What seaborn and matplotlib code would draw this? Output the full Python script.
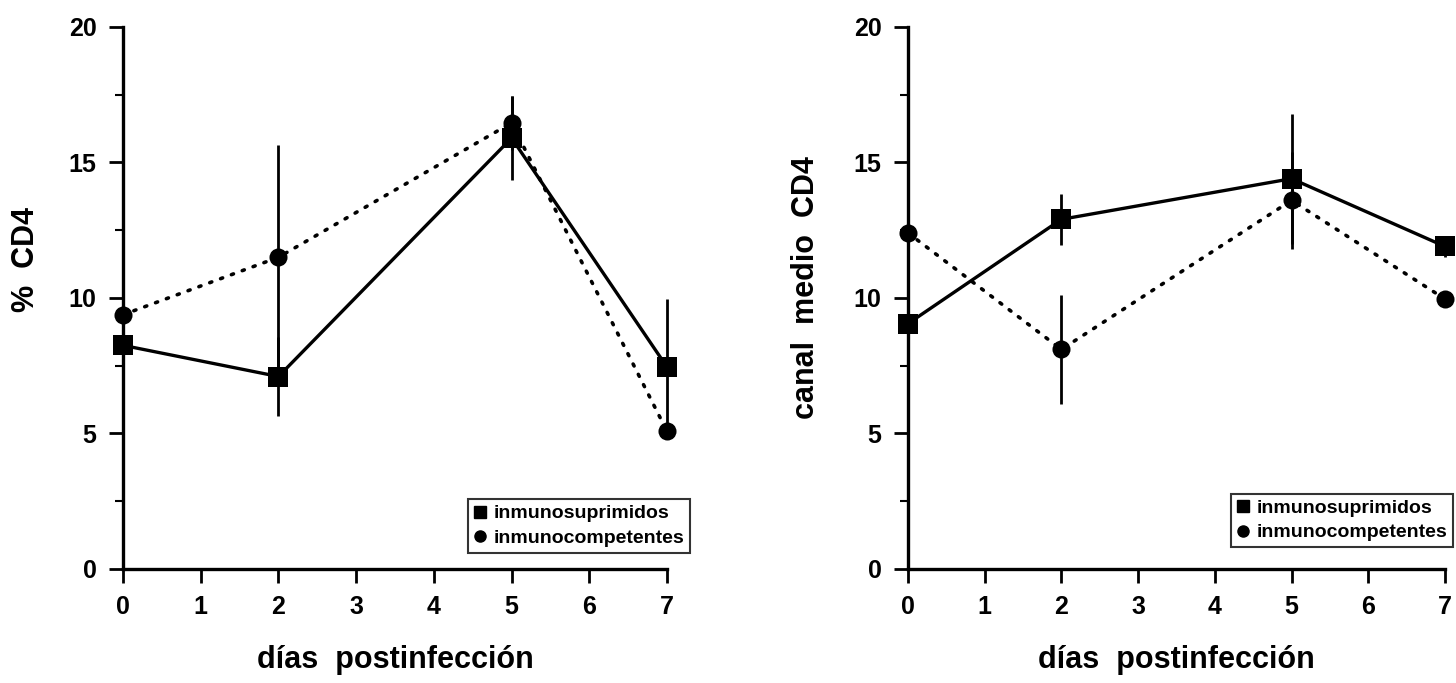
"""CD4 after infection: immunosuppressed vs immunocompetent, two panels."""
import matplotlib
matplotlib.use("Agg")
import matplotlib.pyplot as plt
from matplotlib.lines import Line2D
from matplotlib.ticker import MultipleLocator
import seaborn as sns

dias = [0, 2, 5, 7]

# panel A: % CD4
pct_sup = [8.25, 7.1, 15.9, 7.45]
pct_sup_sd = [0.8, 1.45, 1.55, 2.5]
pct_comp = [9.38, 11.5, 16.46, 5.08]
pct_comp_sd = [1.0, 4.15, 1.0, 0.3]

# panel B: canal medio CD4
canal_sup = [9.05, 12.9, 14.4, 11.9]
canal_sup_sd = [0.5, 0.95, 2.4, 0.4]
canal_comp = [12.4, 8.1, 13.6, 9.96]
canal_comp_sd = [0.5, 2.0, 1.8, 0.3]

labels = ["inmunosuprimidos", "inmunocompetentes"]
xlabel = "días  postinfección"
ylabels = ["%  CD4", "canal  medio  CD4"]

sns.set_theme(style="white")
plt.rcParams["font.family"] = ["Liberation Sans", "DejaVu Sans"]
plt.rcParams["font.weight"] = "bold"
plt.rcParams["text.color"] = "black"
plt.rcParams["axes.labelcolor"] = "black"
plt.rcParams["xtick.color"] = "black"
plt.rcParams["ytick.color"] = "black"


def panel(ax, sup, sup_sd, comp, comp_sd, ylabel, legend_anchor):
    ax.errorbar(dias, sup, yerr=sup_sd, fmt="none", ecolor="black",
                elinewidth=2, capsize=0, clip_on=False, zorder=2)
    ax.errorbar(dias, comp, yerr=comp_sd, fmt="none", ecolor="black",
                elinewidth=2, capsize=0, clip_on=False, zorder=2)
    sns.lineplot(x=dias, y=comp, ax=ax, color="black", linewidth=2.6,
                 linestyle=(0, (0.6, 2.6)), dash_capstyle="round",
                 marker="o", markersize=13, markeredgewidth=0,
                 clip_on=False, zorder=3)
    sns.lineplot(x=dias, y=sup, ax=ax, color="black", linewidth=2.4,
                 marker="s", markersize=14, markeredgewidth=0,
                 clip_on=False, zorder=4)
    ax.set_xlim(0, 7)
    ax.set_ylim(0, 20)
    ax.set_xticks(range(8))
    ax.yaxis.set_major_locator(MultipleLocator(5))
    ax.yaxis.set_minor_locator(MultipleLocator(2.5))
    for side in ("top", "right"):
        ax.spines[side].set_visible(False)
    for side in ("left", "bottom"):
        ax.spines[side].set_color("black")
        ax.spines[side].set_linewidth(2.4)
    ax.tick_params(axis="both", which="major", direction="out", length=10,
                   width=2, color="black", labelsize=18, pad=9,
                   left=True, bottom=True)
    ax.tick_params(axis="y", which="minor", direction="out", length=6,
                   width=1.5, color="black", left=True)
    for t in ax.get_xticklabels() + ax.get_yticklabels():
        t.set_fontweight("bold")
    ax.set_xlabel(xlabel, fontsize=22, fontweight="bold")
    ax.set_ylabel(ylabel, fontsize=22, fontweight="bold")
    ax.xaxis.set_label_coords(0.5, -0.14)
    handles = [
        Line2D([], [], color="black", marker="s", linestyle="none",
               markersize=8),
        Line2D([], [], color="black", marker="o", linestyle="none",
               markersize=8),
    ]
    leg = ax.legend(handles, labels, loc="lower right",
                    bbox_to_anchor=legend_anchor, fontsize=14,
                    frameon=True, fancybox=False, borderpad=0.3,
                    handlelength=0.6, handletextpad=0.4, labelspacing=0.35,
                    borderaxespad=0)
    leg.get_frame().set_edgecolor("black")
    leg.get_frame().set_linewidth(1.5)
    for t in leg.get_texts():
        t.set_fontweight("bold")


fig = plt.figure(figsize=(14.56, 6.83), dpi=100)
ax1 = fig.add_axes([0.0845, 0.167, 0.3736, 0.7936])
ax2 = fig.add_axes([0.6236, 0.167, 0.3688, 0.7936])

panel(ax1, pct_sup, pct_sup_sd, pct_comp, pct_comp_sd, ylabels[0],
      (1.042, 0.03))
panel(ax2, canal_sup, canal_sup_sd, canal_comp, canal_comp_sd, ylabels[1],
      (1.015, 0.04))
ax1.yaxis.set_label_coords(-0.15, 0.57)
ax2.yaxis.set_label_coords(-0.162, 0.52)

fig.savefig("out.png", dpi=100)
